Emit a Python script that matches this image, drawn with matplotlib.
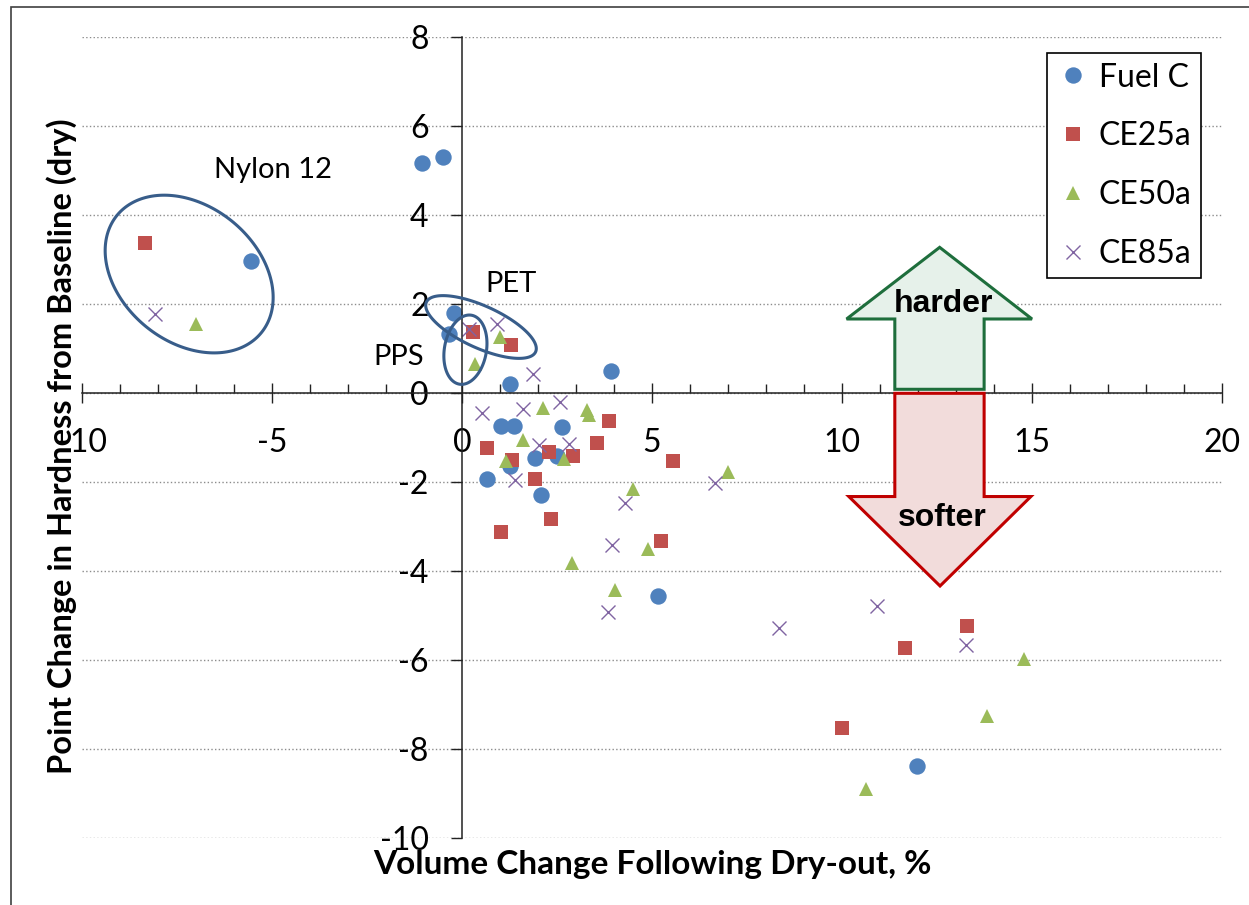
import numpy as np
import matplotlib
matplotlib.use("Agg")
from matplotlib import pyplot as plt
from matplotlib.patches import Polygon, Rectangle
from matplotlib.ticker import MultipleLocator

plt.rcParams['font.family'] = ['Lato', 'DejaVu Sans']
plt.rcParams['axes.unicode_minus'] = False

# volume change (%) and hardness change (points) per fuel
fuel_c_x = [-1.05, -0.5, -5.55, -0.21, -0.33, 1.25, 3.91, 1.02, 1.37, 2.63, 1.91, 2.49, 1.25, 0.65, 2.09, 5.16, 11.98]
fuel_c_y = [5.17, 5.32, 2.98, 1.80, 1.33, 0.21, 0.50, -0.73, -0.73, -0.76, -1.45, -1.42, -1.63, -1.92, -2.29, -4.55, -8.38]

ce25a_x = [-8.33, 0.28, 1.28, 3.88, 0.67, 1.32, 2.28, 2.91, 3.54, 5.54, 1.91, 2.33, 1.02, 5.23, 13.28, 11.65, 10.01]
ce25a_y = [3.38, 1.38, 1.09, -0.62, -1.22, -1.51, -1.32, -1.41, -1.11, -1.52, -1.92, -2.82, -3.12, -3.33, -5.22, -5.72, -7.52]

ce50a_x = [-6.99, 1.0, 0.35, 2.14, 3.28, 3.33, 1.6, 1.16, 2.68, 4.51, 7.01, 2.89, 4.03, 4.89, 14.79, 13.81, 10.64]
ce50a_y = [1.55, 1.27, 0.65, -0.32, -0.38, -0.49, -1.05, -1.52, -1.48, -2.16, -1.76, -3.81, -4.41, -3.5, -5.97, -7.26, -8.89]

ce85a_x = [-8.08, 0.19, 0.93, 1.88, 0.53, 1.61, 2.58, 2.03, 2.82, 1.39, 4.29, 6.67, 3.94, 3.83, 8.34, 10.93, 13.25]
ce85a_y = [1.78, 1.44, 1.56, 0.43, -0.45, -0.36, -0.2, -1.16, -1.15, -1.95, -2.46, -2.02, -3.42, -4.92, -5.28, -4.79, -5.66]

labels = ['Fuel C', 'CE25a', 'CE50a', 'CE85a']

fig = plt.figure(figsize=(12.49, 9.05), dpi=100)
ax = fig.add_axes([82/1249, 66.7/905, 1140/1249, 801/905])

ax.plot(fuel_c_x, fuel_c_y, ls='none', marker='o', ms=11.8, mew=0, color='#4f81bd', label=labels[0])
ax.plot(ce25a_x, ce25a_y, ls='none', marker='s', ms=10, mew=0, color='#c0504d', label=labels[1])
ax.plot(ce50a_x, ce50a_y, ls='none', marker='^', ms=10, mew=0, color='#9bbb59', label=labels[2])
ax.plot(ce85a_x, ce85a_y, ls='none', marker='x', ms=9.6, mew=1.0, color='#8064a2', label=labels[3])

ax.set_xlim(-10, 20)
ax.set_ylim(-10, 8)

for s in ['top', 'right']:
    ax.spines[s].set_visible(False)
ax.spines['left'].set_position(('data', 0))
ax.spines['bottom'].set_position(('data', 0))
for s in ['left', 'bottom']:
    ax.spines[s].set_linewidth(1.1)
    ax.spines[s].set_color('#222222')

ax.xaxis.set_major_locator(MultipleLocator(5))
ax.xaxis.set_minor_locator(MultipleLocator(1))
ax.yaxis.set_major_locator(MultipleLocator(2))
ax.tick_params(axis='x', which='major', direction='inout', length=14, width=1, pad=18, labelsize=23, color='#222222')
ax.tick_params(axis='x', which='minor', direction='in', length=6.5, width=1, color='#222222')
ax.tick_params(axis='y', which='major', direction='out', length=8, width=1, pad=16, labelsize=23, color='#222222')
ax.tick_params(axis='y', which='minor', left=False)

ax.yaxis.grid(True, ls=':', color='#8c8c8c', lw=1)
ax.set_axisbelow(True)

ax.set_xlabel('Volume Change Following Dry-out, %', fontsize=24, fontweight='bold')
ax.xaxis.set_label_coords(0.5, -0.014)
ax.set_ylabel('Point Change in Hardness from Baseline (dry)', fontsize=23.5, fontweight='bold')
ax.yaxis.set_label_coords(-0.004, 0.49)


def ring(cx, cy, a, b, ang):
    # a, b in pixels so the ring keeps its shape on the unequal axes
    sx = ax.bbox.width / 30
    sy = ax.bbox.height / 18
    t = np.linspace(0, 2 * np.pi, 200)
    r = np.radians(ang)
    px = a * np.cos(t) * np.cos(r) - b * np.sin(t) * np.sin(r)
    py = a * np.cos(t) * np.sin(r) + b * np.sin(t) * np.cos(r)
    ax.add_patch(Polygon(np.column_stack([cx + px / sx, cy + py / sy]), closed=True,
                         fill=False, ec='#385d8a', lw=2.2, zorder=5))


ring(-7.18, 2.68, 93, 68, -39)
ring(0.5, 1.49, 60, 21, -24.5)
ring(0.09, 0.98, 35, 21, 80)

ax.text(-4.97, 5.02, 'Nylon 12', ha='center', va='center', fontsize=21)
ax.text(1.29, 2.45, 'PET', ha='center', va='center', fontsize=21)
ax.text(-1.66, 0.82, 'PPS', ha='center', va='center', fontsize=21)

harder = [(11.39, 0.09), (13.74, 0.09), (13.74, 1.67), (15.0, 1.67), (12.57, 3.28), (10.12, 1.67), (11.39, 1.67)]
softer = [(11.39, 0.0), (13.74, 0.0), (13.74, -2.32), (14.97, -2.32), (12.58, -4.33), (10.18, -2.32), (11.39, -2.32)]
ax.add_patch(Polygon(harder, closed=True, fc='#e6f1ea', ec='#1e6e3c', lw=2.2, joinstyle='miter', zorder=4))
ax.add_patch(Polygon(softer, closed=True, fc='#f2dcdb', ec='#c00000', lw=2.2, joinstyle='miter', zorder=4))
ax.text(12.68, 2.0, 'harder', family='Liberation Sans', weight='bold', fontsize=23, ha='center', va='center', zorder=6)
ax.text(12.63, -2.8, 'softer', family='Liberation Sans', weight='bold', fontsize=23, ha='center', va='center', zorder=6)

leg = ax.legend(loc='upper right', bbox_to_anchor=(1201/1249, 1 - 53/905), bbox_transform=fig.transFigure,
                borderaxespad=0, fancybox=False, edgecolor='black', framealpha=1, fontsize=23,
                handlelength=1.0, handletextpad=0.3, borderpad=0.3, labelspacing=0.9)
leg.get_frame().set_linewidth(1.2)

fig.patches.append(Rectangle((11/1249, -0.1), 2, 1.1 - 7/905, transform=fig.transFigure,
                             fill=False, ec='#404040', lw=1.2))

fig.savefig('out.png', dpi=100)
